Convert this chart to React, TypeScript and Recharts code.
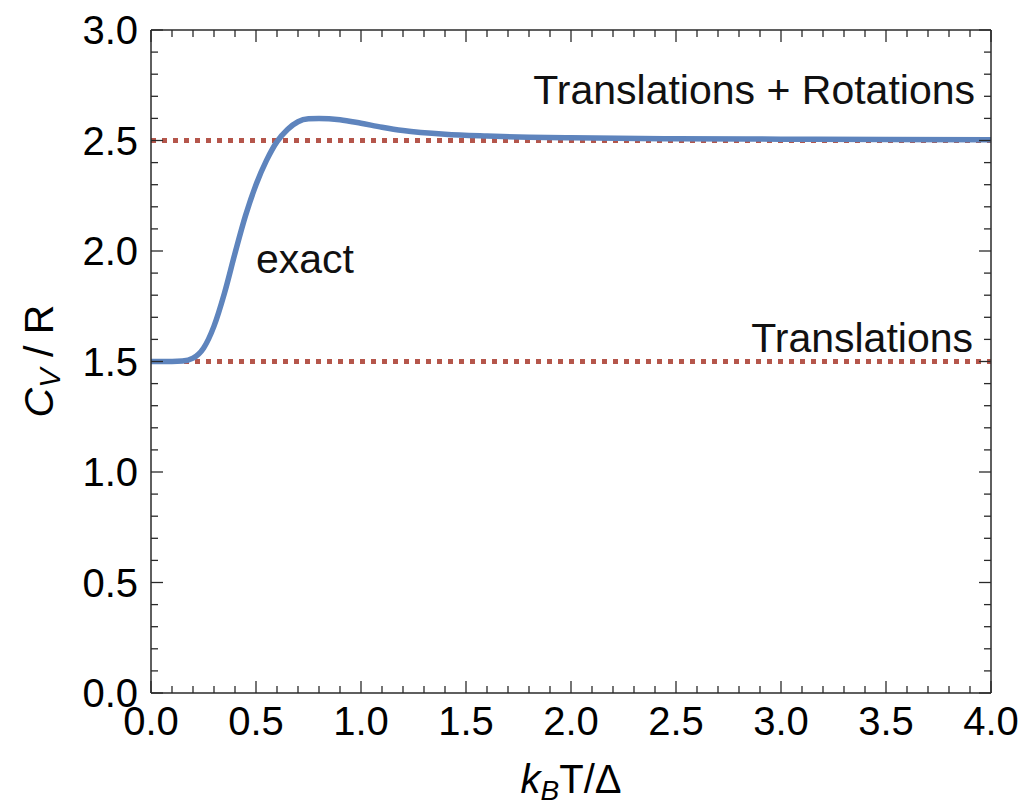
import React from "react";
import { LineChart, Line, XAxis, YAxis, ReferenceDot } from "recharts";

// k_B T / Δ sample points and the exact heat capacity
const temperatures = [0, 0.1, 0.15, 0.2, 0.25, 0.3, 0.35, 0.4, 0.45, 0.5, 0.55, 0.6, 0.65, 0.7, 0.75, 0.8, 0.9, 1.0, 1.1, 1.2, 1.4, 1.6, 1.8, 2.0, 2.5, 3.0, 3.5, 4.0];
const cvExact = [1.5, 1.5, 1.502, 1.515, 1.56, 1.66, 1.81, 1.99, 2.16, 2.3, 2.41, 2.495, 2.55, 2.585, 2.598, 2.6, 2.594, 2.578, 2.56, 2.545, 2.528, 2.52, 2.515, 2.512, 2.508, 2.506, 2.504, 2.503];

// classical limits (dotted)
const levelX = [0, 4];
const translationsLevel = [1.5, 1.5];
const fullLevel = [2.5, 2.5];

const xTicks = [0, 0.1, 0.2, 0.3, 0.4, 0.5, 0.6, 0.7, 0.8, 0.9, 1.0, 1.1, 1.2, 1.3, 1.4, 1.5, 1.6, 1.7, 1.8, 1.9, 2.0, 2.1, 2.2, 2.3, 2.4, 2.5, 2.6, 2.7, 2.8, 2.9, 3.0, 3.1, 3.2, 3.3, 3.4, 3.5, 3.6, 3.7, 3.8, 3.9, 4.0];
const yTicks = [0, 0.1, 0.2, 0.3, 0.4, 0.5, 0.6, 0.7, 0.8, 0.9, 1.0, 1.1, 1.2, 1.3, 1.4, 1.5, 1.6, 1.7, 1.8, 1.9, 2.0, 2.1, 2.2, 2.3, 2.4, 2.5, 2.6, 2.7, 2.8, 2.9, 3.0];

const exactRows = temperatures.map((t, i) => ({ t, cv: cvExact[i] }));
const translationRows = levelX.map((t, i) => ({ t, cv: translationsLevel[i] }));
const fullRows = levelX.map((t, i) => ({ t, cv: fullLevel[i] }));

const FONT = "'Liberation Sans', Arial, Helvetica, sans-serif";
const FRAME = "#2a2a2a";
const BLUE = "#5e84bd";
const RED = "#b5564b";
const MAJOR = 12;
const MINOR = 7;

const isMajor = (v: number) => Math.abs(v * 2 - Math.round(v * 2)) < 1e-6;

function BottomTick(props: any) {
  const { x, y, payload } = props;
  const v = payload.value;
  const major = isMajor(v);
  return (
    <g>
      <line x1={x} x2={x} y1={y} y2={y - (major ? MAJOR : MINOR)} stroke={FRAME} strokeWidth={1.3} />
      {major && (
        <text x={x} y={y + 42} textAnchor="middle" fontFamily={FONT} fontSize={40} fill="#000">
          {v.toFixed(1)}
        </text>
      )}
    </g>
  );
}

function TopTick(props: any) {
  const { x, y, payload } = props;
  const major = isMajor(payload.value);
  return <line x1={x} x2={x} y1={y} y2={y + (major ? MAJOR : MINOR)} stroke={FRAME} strokeWidth={1.3} />;
}

function LeftTick(props: any) {
  const { x, y, payload } = props;
  const v = payload.value;
  const major = isMajor(v);
  return (
    <g>
      <line x1={x} x2={x + (major ? MAJOR : MINOR)} y1={y} y2={y} stroke={FRAME} strokeWidth={1.3} />
      {major && (
        <text x={x - 13} y={y + 14} textAnchor="end" fontFamily={FONT} fontSize={40} fill="#000">
          {v.toFixed(1)}
        </text>
      )}
    </g>
  );
}

function RightTick(props: any) {
  const { x, y, payload } = props;
  const major = isMajor(payload.value);
  return <line x1={x} x2={x - (major ? MAJOR : MINOR)} y1={y} y2={y} stroke={FRAME} strokeWidth={1.3} />;
}

function annotation(text: string, dx: number, dy: number, anchor: "start" | "end") {
  return (props: any) => {
    const vb = props.viewBox || {};
    const cx = (vb.x ?? 0) + (vb.width ?? 0) / 2;
    const cy = (vb.y ?? 0) + (vb.height ?? 0) / 2;
    return (
      <text x={cx + dx} y={cy + dy} textAnchor={anchor} fontFamily={FONT} fontSize={41} fill="#111">
        {text}
      </text>
    );
  };
}

export default function App() {
  return (
    <div style={{ position: "absolute", left: 0, top: 0, width: 1026, height: 808, background: "#fff" }}>
      <LineChart width={1026} height={808} data={exactRows} margin={{ top: 20, right: 25, bottom: 55, left: 91 }}>
        <XAxis
          dataKey="t"
          type="number"
          domain={[0, 4]}
          ticks={xTicks}
          interval={0}
          height={60}
          tickSize={0}
          tickMargin={0}
          tick={BottomTick}
          tickLine={false}
          axisLine={{ stroke: FRAME, strokeWidth: 1.5 }}
          allowDataOverflow
        />
        <XAxis
          xAxisId="top"
          orientation="top"
          dataKey="t"
          type="number"
          domain={[0, 4]}
          ticks={xTicks}
          interval={0}
          height={10}
          tickSize={0}
          tickMargin={0}
          tick={TopTick}
          tickLine={false}
          axisLine={{ stroke: FRAME, strokeWidth: 1.5 }}
          allowDataOverflow
        />
        <YAxis
          type="number"
          domain={[0, 3]}
          ticks={yTicks}
          interval={0}
          width={60}
          tickSize={0}
          tickMargin={0}
          tick={LeftTick}
          tickLine={false}
          axisLine={{ stroke: FRAME, strokeWidth: 1.5 }}
          allowDataOverflow
        />
        <YAxis
          yAxisId="right"
          orientation="right"
          type="number"
          domain={[0, 3]}
          ticks={yTicks}
          interval={0}
          width={10}
          tickSize={0}
          tickMargin={0}
          tick={RightTick}
          tickLine={false}
          axisLine={{ stroke: FRAME, strokeWidth: 1.5 }}
          allowDataOverflow
        />
        <Line data={translationRows} dataKey="cv" type="linear" stroke={RED} strokeWidth={5} strokeDasharray="5 6" dot={false} activeDot={false} isAnimationActive={false} />
        <Line data={fullRows} dataKey="cv" type="linear" stroke={RED} strokeWidth={5} strokeDasharray="5 6" dot={false} activeDot={false} isAnimationActive={false} />
        <Line dataKey="cv" type="monotone" stroke={BLUE} strokeWidth={5.5} dot={false} activeDot={false} isAnimationActive={false} />
        <ReferenceDot x={4} y={2.5} r={0} fill="none" stroke="none" label={{ content: annotation("Translations + Rotations", -16, -37, "end") }} />
        <ReferenceDot x={4} y={1.5} r={0} fill="none" stroke="none" label={{ content: annotation("Translations", -18, -10, "end") }} />
        <ReferenceDot x={0.5} y={1.9} r={0} fill="none" stroke="none" label={{ content: annotation("exact", 0, 0, "start") }} />
      </LineChart>
      <svg width={1026} height={808} style={{ position: "absolute", left: 0, top: 0, pointerEvents: "none" }}>
        <text x={571} y={793} textAnchor="middle" fontFamily={FONT} fontSize={40} fill="#000">
          <tspan fontStyle="italic">k</tspan>
          <tspan fontStyle="italic" fontSize={28} dy={7}>B</tspan>
          <tspan dy={-7}>T/Δ</tspan>
        </text>
        <text transform="translate(53,361) rotate(-90)" textAnchor="middle" fontFamily={FONT} fontSize={41} fill="#000">
          <tspan fontStyle="italic">C</tspan>
          <tspan fontStyle="italic" fontSize={29} dy={7}>V</tspan>
          <tspan dy={-7}>{"  / R"}</tspan>
        </text>
      </svg>
    </div>
  );
}
